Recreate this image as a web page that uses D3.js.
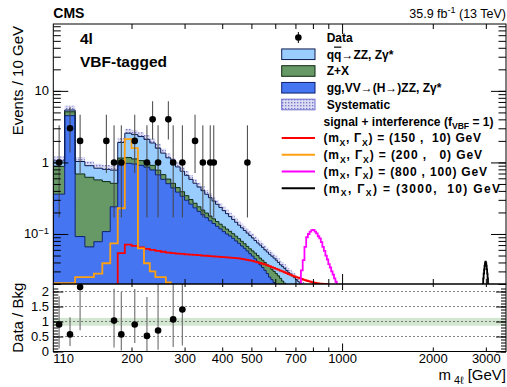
<!DOCTYPE html>
<html>
<head>
<meta charset="utf-8">
<script src="https://cdn.jsdelivr.net/npm/d3@7"></script>
<style>
  body { margin: 0; background: #fff; }
  svg { display: block; font-family: 'Liberation Sans', Arial, Helvetica, sans-serif; }
</style>
</head>
<body>
<script>

// Background stack, events / 10 GeV, first bin starts at 110 GeV
const binWidth = 10
const bkgStart = 110

const ggZZ = [0.36, 4.5, 0.092, 0.066, 0.078, 0.108, 0.24, 0.92, 0.97, 0.95,
    0.91, 0.86, 0.785, 0.67, 0.58, 0.505, 0.44, 0.384, 0.336, 0.296,
    0.261, 0.232, 0.207, 0.186, 0.169, 0.153, 0.14, 0.128, 0.118, 0.108,
    0.1, 0.094, 0.087, 0.08, 0.074, 0.068, 0.063, 0.058, 0.053, 0.049,
    0.045, 0.041, 0.037, 0.034, 0.031, 0.028, 0.025, 0.023, 0.021, 0.019,
    0.017, 0.015, 0.014, 0.013, 0.012, 0.011, 0.01, 0.0095, 0.009, 0.0085,
    0.008, 0.0076, 0.0072, 0.0068]

const zPlusX = [0.52, 0.6, 0.598, 0.554, 0.492, 0.432, 0.27, 0.23, 0.2, 0.17,
    0.15, 0.14, 0.125, 0.11, 0.095, 0.08, 0.07, 0.061, 0.054, 0.047,
    0.042, 0.037, 0.033, 0.03, 0.027, 0.025, 0.023, 0.021, 0.019, 0.018,
    0.017, 0.015, 0.014, 0.013, 0.012, 0.011, 0.01, 0.009, 0.009, 0.009,
    0.009, 0.009, 0.009, 0.009, 0.009, 0.009, 0.01, 0.009, 0.009, 0.009,
    0.009, 0.009, 0.008, 0.0075, 0.007, 0.007, 0.007, 0.0065, 0.006, 0.0055,
    0.0055, 0.0052, 0.0048, 0.0046]

const qqZZ = [0.17, 0.3, 0.34, 0.28, 0.26, 0.26, 0.27, 0.75, 1.39, 1.33,
    1.24, 1.1, 0.96, 0.8, 0.675, 0.575, 0.49, 0.42, 0.364, 0.317,
    0.277, 0.243, 0.213, 0.187, 0.163, 0.144, 0.126, 0.111, 0.098, 0.086,
    0.0755, 0.066, 0.059, 0.053, 0.047, 0.043, 0.039, 0.036, 0.033, 0.03,
    0.027, 0.025, 0.024, 0.022, 0.02, 0.019, 0.017, 0.017, 0.016, 0.015,
    0.014, 0.013, 0.013, 0.0125, 0.012, 0.011, 0.0105, 0.01, 0.0095, 0.009,
    0.0083, 0.0079, 0.0076, 0.0071]

const sysFrac = 0.15

// Observed data (bin centres)
const dataMass = [115, 125, 135, 165, 175, 185, 205, 225, 235, 245, 265, 275, 295, 325, 345, 365, 375, 485]
const dataCount = [1, 3, 2, 2, 1, 1, 2, 1, 4, 1, 4, 1, 1, 2, 1, 1, 1, 1]
const dataLow = [0.17, 1.37, 0.71, 0.71, 0.17, 0.17, 0.71, 0.17, 2.09, 0.17, 2.09, 0.17, 0.17, 0.71, 0.17, 0.17, 0.17, 0.17]
const dataHigh = [3.3, 5.92, 4.64, 4.64, 3.3, 3.3, 4.64, 3.3, 7.16, 3.3, 7.16, 3.3, 3.3, 4.64, 3.3, 3.3, 3.3, 3.3]

// Data / Bkg
const ratioMass = [115, 125, 135, 175, 185, 205, 225, 245, 275, 295]
const ratioValue = [0.9, 0.57, 2.15, 1.03, 0.57, 0.9, 0.52, 0.7, 1.07, 1.4]
const ratioLow = [0.1, 0.18, 0.71, 0.13, 0.03, 0.28, 0.02, 0.06, 0.15, 0.2]
const ratioHigh = [1.84, 1.14, 2.3, 2.09, 1.98, 2.08, 1.82, 2.3, 2.3, 2.3]
const ratioBand = [0.86, 1.12]

// signal + interference
const sig150Start = 180
const sig150 = [0.054, 0.071, 0.068, 0.065, 0.062, 0.06, 0.058, 0.0565, 0.055, 0.054,
    0.0533, 0.0527, 0.052, 0.0515, 0.051, 0.0505, 0.05, 0.0496, 0.0492, 0.0488,
    0.0484, 0.048, 0.0476, 0.0472, 0.0468, 0.0464, 0.046, 0.0455, 0.045, 0.0443,
    0.0435, 0.0428, 0.042, 0.0411, 0.0402, 0.0393, 0.0384, 0.0375, 0.0365, 0.0355,
    0.0345, 0.0335, 0.0326, 0.0317, 0.0308, 0.03, 0.0292, 0.0284, 0.0276, 0.0269,
    0.0262, 0.0256, 0.025, 0.0246, 0.024, 0.0235, 0.023, 0.0226, 0.0222, 0.0219,
    0.0216, 0.0213, 0.021, 0.0208, 0.0206, 0.0204, 0.0203, 0.0202, 0.0201, 0.02,
    0.0199, 0.0197, 0.0195]

const sig200Start = 110
const sig200 = [0.0205, 0.0205, 0.025, 0.025, 0.028, 0.039, 0.074, 0.229, 2.11, 1.58,
    0.063, 0.039, 0.03, 0.025, 0.025, 0.021, 0.0195]

const sig800Start = 720
const sig800 = [0.012, 0.031, 0.043, 0.066, 0.09, 0.1, 0.108, 0.113, 0.114, 0.108,
    0.102, 0.093, 0.087, 0.077, 0.066, 0.058, 0.05, 0.044, 0.038, 0.034,
    0.03, 0.027, 0.024, 0.0215, 0.019, 0.017]

const sig3000Start = 2920
const sig3000 = [0.012, 0.02, 0.024, 0.028, 0.032, 0.036, 0.039, 0.041, 0.039, 0.036,
    0.032, 0.028, 0.024, 0.02, 0.012]

// axis ticks
const xLabels = [110, 200, 300, 400, 500, 700, 1000, 2000, 3000]
const xMinorTicks = [200, 300, 400, 500, 600, 700, 800, 900, 2000, 3000]
const xMajorTicks = [1000]
const ratioLabels = [0, 0.5, 1, 1.5, 2]


const W = 507
const H = 387
const plotLeft = 53.3
const plotRight = 506
const mainTop = 24
const mainBottom = 284
const ratioBottom = 351.5
const floor = 1e-4

const svg = d3.select('body')
    .append('svg')
        .attr('width', W)
        .attr('height', H)

svg.append('rect').attr('width', W).attr('height', H).attr('fill', '#fff')

const defs = svg.append('defs')
defs.append('clipPath').attr('id', 'mainClip')
    .append('rect')
        .attr('x', plotLeft).attr('y', mainTop)
        .attr('width', plotRight - plotLeft).attr('height', mainBottom - mainTop)

const dots = defs.append('pattern')
    .attr('id', 'sysDots')
    .attr('patternUnits', 'userSpaceOnUse')
    .attr('width', 3).attr('height', 3)
dots.append('rect').attr('width', 3).attr('height', 3).attr('fill', '#dcdcf3')
dots.append('rect').attr('width', 1.4).attr('height', 1.4).attr('fill', '#7a7acb')

// Scales
const x = d3.scaleLog().domain([110, 3500]).range([plotLeft, plotRight])
const y = d3.scaleLog().domain([0.02, 86]).range([mainBottom, mainTop])
const yRatio = d3.scaleLinear().domain([0, 2.25]).range([ratioBottom, mainBottom])
const safeY = v => y(Math.max(v, floor))

// Stack
const bkgRows = ggZZ.map((gg, i) => {
    const zx = gg + zPlusX[i]
    return { lo: bkgStart + i * binWidth, gg, zx, tot: zx + qqZZ[i] }
})
const bkgSteps = bkgRows.flatMap(r => [{ ...r, m: r.lo }, { ...r, m: r.lo + binWidth }])
const bkgEnd = bkgStart + bkgRows.length * binWidth

const main = svg.append('g').attr('clip-path', 'url(#mainClip)')

main.append('path')
    .datum(bkgSteps)
    .attr('fill', 'url(#sysDots)')
    .attr('d', d3.area()
        .x(d => x(d.m))
        .y0(d => safeY(d.tot * (1 - sysFrac)))
        .y1(d => safeY(d.tot * (1 + sysFrac))))

const layers = [
    { key: 'tot', base: 'zx', fill: '#99ccff', stroke: '#101c50' },
    { key: 'zx', base: 'gg', fill: '#669966', stroke: '#0f2a12' },
    { key: 'gg', base: null, fill: '#4575f0', stroke: '#0d1f6e' }
]

layers.forEach(layer => {
    main.append('path')
        .datum(bkgSteps)
        .attr('fill', layer.fill)
        .attr('d', d3.area()
            .x(d => x(d.m))
            .y0(d => layer.base ? safeY(d[layer.base]) : mainBottom + 2)
            .y1(d => safeY(d[layer.key])))
})

layers.forEach(layer => {
    const pts = [{ m: bkgStart, v: floor }, ...bkgSteps.map(d => ({ m: d.m, v: d[layer.key] })), { m: bkgEnd, v: floor }]
    main.append('path')
        .datum(pts)
        .attr('fill', 'none')
        .attr('stroke', layer.stroke)
        .attr('stroke-width', 1)
        .attr('d', d3.line().x(d => x(d.m)).y(d => safeY(d.v)))
})

// Signal curves
const signals = [
    { start: sig150Start, values: sig150, color: '#ff0000', width: 157.5 },
    { start: sig200Start, values: sig200, color: '#ffa010', width: 158.5 },
    { start: sig800Start, values: sig800, color: '#ff00ff', width: 163.5 },
    { start: sig3000Start, values: sig3000, color: '#000000', width: 176.5 }
]

const stepLine = (start, values) => [
    [start, floor],
    ...values.flatMap((v, i) => [[start + i * binWidth, v], [start + (i + 1) * binWidth, v]]),
    [start + values.length * binWidth, floor]
]

signals.forEach(s => {
    main.append('path')
        .datum(stepLine(s.start, s.values))
        .attr('fill', 'none')
        .attr('stroke', s.color)
        .attr('stroke-width', 1.8)
        .attr('d', d3.line().x(d => x(d[0])).y(d => safeY(d[1])))
})

// Data points
const dataG = svg.append('g')
dataG.selectAll('.err')
    .data(dataMass)
    .enter()
    .append('line')
        .attr('class', 'err')
        .attr('x1', d => x(d)).attr('x2', d => x(d))
        .attr('y1', (d, i) => y(dataLow[i]))
        .attr('y2', (d, i) => y(dataHigh[i]))
        .attr('stroke', '#444')
        .attr('stroke-width', 1)
dataG.selectAll('.pt')
    .data(dataMass)
    .enter()
    .append('circle')
        .attr('class', 'pt')
        .attr('cx', d => x(d))
        .attr('cy', (d, i) => y(dataCount[i]))
        .attr('r', 3.3)
        .attr('fill', '#000')

// Ratio panel
svg.append('rect')
    .attr('x', plotLeft)
    .attr('y', yRatio(ratioBand[1]))
    .attr('width', plotRight - plotLeft)
    .attr('height', yRatio(ratioBand[0]) - yRatio(ratioBand[1]))
    .attr('fill', '#d3e6d1')

svg.selectAll('.grid')
    .data(ratioLabels.filter(d => d > 0))
    .enter()
    .append('line')
        .attr('class', 'grid')
        .attr('x1', plotLeft).attr('x2', plotRight)
        .attr('y1', d => yRatio(d)).attr('y2', d => yRatio(d))
        .attr('stroke', '#333')
        .attr('stroke-width', 0.8)
        .attr('stroke-dasharray', '1.5,2.5')

const ratioG = svg.append('g')
ratioG.selectAll('.rerr')
    .data(ratioMass)
    .enter()
    .append('line')
        .attr('class', 'rerr')
        .attr('x1', d => x(d)).attr('x2', d => x(d))
        .attr('y1', (d, i) => yRatio(ratioLow[i]))
        .attr('y2', (d, i) => Math.max(yRatio(ratioHigh[i]), mainBottom))
        .attr('stroke', '#777')
        .attr('stroke-width', 1.2)
ratioG.selectAll('.rpt')
    .data(ratioMass)
    .enter()
    .append('circle')
        .attr('class', 'rpt')
        .attr('cx', d => x(d))
        .attr('cy', (d, i) => yRatio(ratioValue[i]))
        .attr('r', 3.3)
        .attr('fill', '#000')

// Frames
svg.append('rect')
    .attr('x', plotLeft).attr('y', mainTop)
    .attr('width', plotRight - plotLeft).attr('height', mainBottom - mainTop)
    .attr('fill', 'none').attr('stroke', '#000').attr('stroke-width', 1)
svg.append('rect')
    .attr('x', plotLeft).attr('y', mainBottom)
    .attr('width', plotRight - plotLeft).attr('height', ratioBottom - mainBottom)
    .attr('fill', 'none').attr('stroke', '#000').attr('stroke-width', 1)

// Ticks
const tickAxis = (axis, tx, ty) => svg.append('g')
    .attr('transform', `translate(${tx}, ${ty})`)
    .call(axis)
    .call(g => g.select('.domain').remove())

const xTicks = (axisFn, ty, minor, major) => {
    tickAxis(axisFn(x).tickValues(xMinorTicks).tickSize(-minor).tickFormat(''), 0, ty)
    tickAxis(axisFn(x).tickValues(xMajorTicks).tickSize(-major).tickFormat(''), 0, ty)
}
xTicks(d3.axisTop, mainTop, 5, 10)
xTicks(d3.axisBottom, mainBottom, 5, 10)
xTicks(d3.axisTop, mainBottom, 3, 6)
xTicks(d3.axisBottom, ratioBottom, 4, 8)

const yMinor = y.ticks().filter(v => v >= 0.02)
const yMajor = [0.1, 1, 10]
tickAxis(d3.axisLeft(y).tickValues(yMinor).tickSize(-7.5).tickFormat(''), plotLeft, 0)
tickAxis(d3.axisLeft(y).tickValues(yMajor).tickSize(-15).tickFormat(''), plotLeft, 0)
tickAxis(d3.axisRight(y).tickValues(yMinor).tickSize(-7.5).tickFormat(''), plotRight, 0)
tickAxis(d3.axisRight(y).tickValues(yMajor).tickSize(-15).tickFormat(''), plotRight, 0)

const rMinor = d3.range(0, 22).map(i => i / 10)
tickAxis(d3.axisLeft(yRatio).tickValues(rMinor).tickSize(-5).tickFormat(''), plotLeft, 0)
tickAxis(d3.axisLeft(yRatio).tickValues(ratioLabels).tickSize(-10).tickFormat(''), plotLeft, 0)
tickAxis(d3.axisRight(yRatio).tickValues(rMinor).tickSize(-5).tickFormat(''), plotRight, 0)
tickAxis(d3.axisRight(yRatio).tickValues(ratioLabels).tickSize(-10).tickFormat(''), plotRight, 0)

svg.selectAll('.tick line').attr('stroke', '#000').attr('stroke-width', 1)

// Tick labels
const xLabelG = tickAxis(d3.axisBottom(x).tickValues(xLabels).tickSize(0).tickPadding(2.5).tickFormat(d3.format('d')), 0, ratioBottom)
xLabelG.selectAll('text')
    .attr('font-size', 13)
    .attr('font-family', 'Liberation Sans, Arial, sans-serif')
    .attr('fill', '#000')
    .attr('text-anchor', d => d === 110 ? 'start' : 'middle')
    .attr('dx', d => d === 110 ? -0.5 : 0)

const ratioLabelG = tickAxis(d3.axisLeft(yRatio).tickValues(ratioLabels).tickSize(0).tickPadding(plotLeft - 49).tickFormat(d => d3.format('')(d)), plotLeft, 0)
ratioLabelG.selectAll('text')
    .attr('font-size', 13)
    .attr('font-family', 'Liberation Sans, Arial, sans-serif')
    .attr('fill', '#000')

const richText = (g, px, py, parts, size, weight, anchor) => {
    const t = g.append('text')
        .attr('x', px).attr('y', py)
        .attr('font-size', size)
        .attr('font-weight', weight || 'normal')
        .attr('text-anchor', anchor || 'start')
        .style('white-space', 'pre')
    let shift = 0
    parts.forEach(p => {
        const [str, mode] = Array.isArray(p) ? p : [p, null]
        const target = mode === 'sub' ? size * 0.3 : mode === 'sup' ? -size * 0.38 : 0
        const ts = t.append('tspan').text(str).attr('dy', target - shift)
        if (mode === 'sub' || mode === 'sup') ts.attr('font-size', size * 0.72)
        if (mode === 'over') ts.style('text-decoration', 'overline')
        shift = target
    })
    return t
}

const yLab = svg.append('g')
richText(yLab, 49, y(10) + 4.5, ['10'], 13, 'normal', 'end')
richText(yLab, 49, y(1) + 4.5, ['1'], 13, 'normal', 'end')
richText(yLab, 49, y(0.1) + 4.5, ['10', ['\u22121', 'sup']], 13, 'normal', 'end')

// Titles
svg.append('text')
    .attr('x', plotLeft).attr('y', 18)
    .attr('font-size', 14).attr('font-weight', 'bold')
    .text('CMS')
richText(svg, plotRight, 18, ['35.9 fb', ['-1', 'sup'], ' (13 TeV)'], 12.5, 'normal', 'end')

svg.append('text').attr('x', 80).attr('y', 43.5).attr('font-size', 15.5).attr('font-weight', 'bold').text('4l')
svg.append('text').attr('x', 80).attr('y', 66.5).attr('font-size', 15.5).attr('font-weight', 'bold').text('VBF-tagged')

svg.append('text')
    .attr('transform', 'translate(22.5, 26) rotate(-90)')
    .attr('text-anchor', 'end')
    .attr('font-size', 15)
    .text('Events / 10 GeV')
svg.append('text')
    .attr('transform', `translate(22.5, ${(mainBottom + ratioBottom) / 2}) rotate(-90)`)
    .attr('text-anchor', 'middle')
    .attr('font-size', 15)
    .text('Data / Bkg')
richText(svg, plotRight, 379.5, ['m', [' 4\u2113', 'sub'], ' [GeV]'], 15, 'normal', 'end')

// Legend
const legend = svg.append('g')
const legX0 = 281.7
const legX1 = 315
const rowY = i => 37.5 + i * 16.75

legend.append('line')
    .attr('x1', (legX0 + legX1) / 2).attr('x2', (legX0 + legX1) / 2)
    .attr('y1', rowY(0) - 5.5).attr('y2', rowY(0) + 5.5)
    .attr('stroke', '#000')
legend.append('circle')
    .attr('cx', (legX0 + legX1) / 2).attr('cy', rowY(0)).attr('r', 3.3).attr('fill', '#000')
richText(legend, 326.7, rowY(0) + 4.3, ['Data'], 12, 'bold')

const legendBoxes = [
    { fill: '#99ccff', stroke: '#101c50', label: ['q', ['q', 'over'], '\u2192ZZ, Z\u03b3*'] },
    { fill: '#669966', stroke: '#0f2a12', label: ['Z+X'] },
    { fill: '#4575f0', stroke: '#0d1f6e', label: ['gg,VV\u2192(H\u2192)ZZ, Z\u03b3*'] },
    { fill: 'url(#sysDots)', stroke: '#6f6fd0', label: ['Systematic'] }
]
legendBoxes.forEach((b, i) => {
    legend.append('rect')
        .attr('x', legX0).attr('y', rowY(i + 1) - 5.3)
        .attr('width', legX1 - legX0).attr('height', 10.6)
        .attr('fill', b.fill).attr('stroke', b.stroke).attr('stroke-width', 1)
    richText(legend, 326.7, rowY(i + 1) + 4.3, b.label, 12, 'bold')
})

richText(legend, 323.5, rowY(5) + 4.3, ['signal + interference (f', ['VBF', 'sub'], ' = 1)'], 12, 'bold')

const signalLabels = [
    '(150 ,  10) GeV',
    '(200 ,   0) GeV',
    '(800 , 100) GeV',
    '(3000,  10) GeV'
]
signals.forEach((s, i) => {
    legend.append('line')
        .attr('x1', legX0).attr('x2', legX1)
        .attr('y1', rowY(i + 6)).attr('y2', rowY(i + 6))
        .attr('stroke', s.color).attr('stroke-width', 1.8)
    richText(legend, 323.5, rowY(i + 6) + 4.3,
        ['(m', ['X', 'sub'], ', \u0393', ['X', 'sub'], ') = ' + signalLabels[i]], 12, 'bold')
        .attr('textLength', s.width)
        .attr('lengthAdjust', 'spacing')
})

</script>
</body>
</html>
